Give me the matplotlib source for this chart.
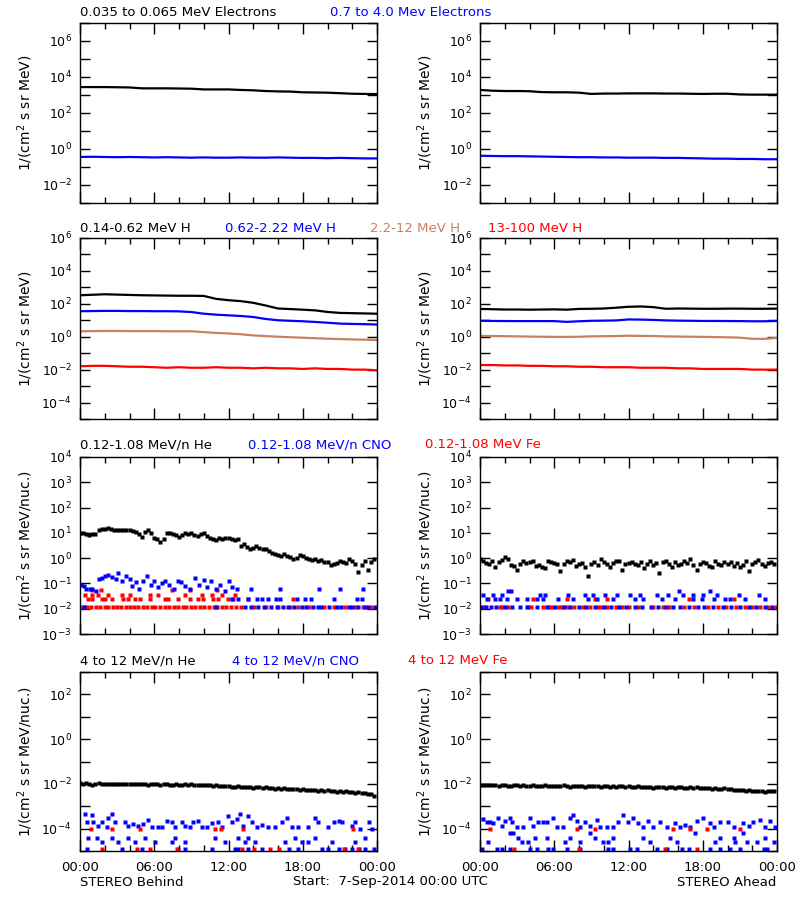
import numpy as np
import matplotlib
matplotlib.use('Agg')
import matplotlib.pyplot as plt
from matplotlib.ticker import FixedLocator, FuncFormatter, MultipleLocator, NullFormatter

plt.rcParams['font.family'] = ['DejaVu Sans']

BROWN = '#c8805f'

# hourly samples 00:00 .. 24:00
hours = list(range(25))
# quarter-hourly samples 00:00 .. 23:45
quarter_hours = [i * 0.25 for i in range(96)]

# ---- electrons (row 1) ----
e_low_b = [2754, 2754, 2754, 2692, 2630, 2344, 2344, 2344, 2291, 2239, 2042, 2042, 2042,
           1905, 1820, 1660, 1585, 1549, 1413, 1380, 1349, 1259, 1175, 1148, 1122]
e_high_b = [0.36, 0.37, 0.36, 0.35, 0.36, 0.35, 0.34, 0.35, 0.34, 0.33, 0.34, 0.33, 0.33,
            0.34, 0.33, 0.33, 0.34, 0.33, 0.32, 0.32, 0.31, 0.32, 0.31, 0.30, 0.30]
e_low_a = [1905, 1738, 1660, 1660, 1622, 1445, 1413, 1413, 1349, 1148, 1202, 1202, 1230,
           1230, 1230, 1202, 1202, 1175, 1148, 1175, 1175, 1072, 1047, 1047, 1047]
e_high_a = [0.42, 0.41, 0.40, 0.40, 0.39, 0.38, 0.37, 0.36, 0.35, 0.35, 0.34, 0.34, 0.33,
            0.33, 0.33, 0.32, 0.32, 0.31, 0.30, 0.29, 0.29, 0.28, 0.28, 0.27, 0.27]

# ---- protons (row 2) ----
h1_b = [331, 355, 380, 363, 347, 331, 324, 316, 309, 309, 302, 200, 166,
        145, 115, 79, 52, 48, 44, 40, 32, 28, 27, 26, 25]
h2_b = [35.5, 36.3, 37.2, 37.2, 36.3, 36.3, 35.5, 35.5, 34.7, 31.6, 25.1, 21.9, 20.0,
        18.2, 15.8, 12.0, 10.0, 9.3, 8.7, 7.9, 7.1, 6.3, 6.0, 5.8, 5.5]
h3_b = [2.14, 2.19, 2.24, 2.24, 2.19, 2.19, 2.19, 2.14, 2.14, 2.14, 1.91, 1.70, 1.58,
        1.41, 1.20, 1.10, 1.00, 0.93, 0.87, 0.81, 0.76, 0.72, 0.69, 0.66, 0.63]
h4_b = [0.016, 0.017, 0.017, 0.016, 0.015, 0.015, 0.014, 0.013, 0.014, 0.013, 0.013, 0.014, 0.013,
        0.013, 0.012, 0.013, 0.012, 0.012, 0.011, 0.012, 0.011, 0.011, 0.010, 0.010, 0.0092]
h1_a = [49, 47, 45, 45, 44, 45, 46, 44, 49, 50, 52, 58, 66,
        69, 63, 50, 52, 51, 50, 50, 51, 51, 50, 50, 51]
h2_a = [9.3, 9.1, 9.0, 8.9, 8.9, 8.9, 8.9, 8.0, 8.7, 9.3, 9.5, 9.8, 11.2,
        11.0, 10.5, 9.8, 9.5, 9.3, 9.1, 9.1, 9.0, 8.9, 8.7, 8.7, 9.1]
h3_a = [1.12, 1.10, 1.08, 1.05, 1.02, 1.00, 0.98, 0.97, 1.00, 1.05, 1.08, 1.10, 1.15,
        1.12, 1.10, 1.05, 1.02, 1.00, 0.98, 0.95, 0.92, 0.88, 0.75, 0.74, 0.85]
h4_a = [0.019, 0.019, 0.018, 0.018, 0.017, 0.017, 0.016, 0.016, 0.015, 0.015, 0.014, 0.014, 0.014,
        0.013, 0.013, 0.013, 0.012, 0.012, 0.011, 0.011, 0.011, 0.011, 0.010, 0.010, 0.010]

# ---- 0.12-1.08 MeV/n heavy ions (row 3) ----
he_lo_b = [9.5, 10, 9.0, 8.5, 8.8, 9.2, 13.5, 14.8, 14.5, 15.5, 14.0, 13.0,
           12.5, 13.5, 13.0, 12.8, 12.5, 11.5, 11.0, 9.0, 7.0, 10.5, 13.0, 10.0,
           6.5, 5.5, 4.5, 5.5, 9.5, 9.8, 9.0, 8.0, 7.0, 8.5, 10.0, 9.0,
           9.5, 8.0, 7.5, 9.0, 10.0, 7.5, 6.0, 5.5, 5.0, 6.5, 5.5, 6.0,
           6.0, 5.5, 5.0, 5.8, 3.0, 3.5, 2.8, 2.3, 2.5, 2.9, 2.6, 2.2,
           2.4, 1.9, 1.6, 1.4, 1.3, 1.2, 1.5, 1.2, 1.1, 0.9, 1.0, 1.3,
           1.2, 1.0, 0.95, 0.85, 0.9, 0.75, 0.85, 0.7, 0.7, 0.55, 0.6, 0.65,
           0.8, 0.7, 0.65, 0.9, 0.75, 0.6, 0.28, 0.55, 0.8, 0.35, 0.7, 0.9]
he_lo_a = [0.9, 0.8, 0.65, 0.6, 0.75, 0.45, 0.7, 0.85, 1.1, 0.9, 0.55, 0.5,
           0.35, 0.6, 0.8, 0.65, 0.7, 0.75, 0.5, 0.55, 0.45, 0.4, 0.8, 0.7,
           0.65, 0.6, 0.3, 0.6, 0.75, 0.7, 0.85, 0.5, 0.6, 0.65, 0.45, 0.2,
           0.6, 0.7, 0.55, 0.9, 0.7, 0.6, 0.45, 0.65, 0.8, 0.75, 0.35, 0.6,
           0.65, 0.7, 0.6, 0.55, 0.7, 0.4, 0.6, 0.75, 0.55, 0.65, 0.25, 0.7,
           0.8, 0.6, 0.45, 0.7, 0.55, 0.6, 0.75, 0.65, 0.9, 0.55, 0.35, 0.6,
           0.7, 0.65, 0.5, 0.45, 0.8, 0.6, 0.55, 0.7, 0.6, 0.7, 0.5, 0.65,
           0.45, 0.55, 0.75, 0.3, 0.6, 0.7, 0.85, 0.6, 0.5, 0.65, 0.7, 0.6]

cno_lo_b_t = [0.1, 0.3, 0.5, 0.8, 1.0, 1.3, 1.5, 1.8, 2.0, 2.3, 2.6, 2.9, 3.1, 3.4, 3.7, 4.0,
              4.2, 4.5, 4.8, 5.1, 5.4, 5.7, 6.0, 6.3, 6.6, 6.9, 7.2, 7.6, 7.9, 8.2, 8.5, 8.9,
              9.3, 9.6, 10.0, 10.3, 10.6, 11.0, 11.3, 11.7, 12.0, 12.3, 12.7,
              12.3, 12.8, 13.6, 14.3, 14.7, 15.2, 15.8, 16.2, 17.5, 18.2, 18.7, 20.5, 22.4, 22.8,
              13.8, 16.2, 19.3, 21.0, 22.9,
              13.3, 13.8, 14.4, 14.9, 15.4, 15.9, 16.4, 16.8, 17.3, 17.9, 18.3, 18.8, 19.2,
              19.5, 20.1, 20.8, 21.1, 21.7, 22.0, 22.5, 23.0, 23.3, 23.8, 0.3, 11.0]
cno_lo_b_v = [0.09, 0.08, 0.06, 0.06, 0.06, 0.05, 0.15, 0.17, 0.19, 0.21, 0.18, 0.15, 0.25, 0.12, 0.19, 0.15,
              0.08, 0.11, 0.06, 0.13, 0.20, 0.09, 0.12, 0.07, 0.10, 0.13, 0.09, 0.06, 0.12, 0.11, 0.08, 0.06,
              0.17, 0.09, 0.14, 0.07, 0.12, 0.06, 0.09, 0.05, 0.13, 0.07, 0.06,
              0.025, 0.025, 0.025, 0.025, 0.025, 0.025, 0.025, 0.025, 0.025, 0.025, 0.025, 0.025, 0.025, 0.025,
              0.058, 0.058, 0.058, 0.058, 0.058,
              0.0118, 0.0118, 0.0118, 0.0118, 0.0118, 0.0118, 0.0118, 0.0118, 0.0118, 0.0118, 0.0118, 0.0118, 0.0118,
              0.0118, 0.0118, 0.0118, 0.0118, 0.0118, 0.0118, 0.0118, 0.0118, 0.0118, 0.0118, 0.0118, 0.0118]
fe_lo_b_t = [0.0, 0.3, 0.6, 0.9, 1.3, 1.6, 2.0, 2.3, 2.7, 3.0, 3.3, 3.7, 4.0, 4.4, 4.7, 5.1,
             5.4, 5.8, 6.1, 6.5, 6.9, 7.2, 7.6, 7.9, 8.3, 8.6, 9.0, 9.3, 9.7, 10.0, 10.4, 10.8,
             11.1, 11.5, 11.8, 12.2, 12.6, 13.0, 14.1, 15.0, 16.0, 17.0, 17.6, 18.5, 19.7, 20.5,
             21.4, 22.2, 22.9, 23.5,
             0.67, 0.94, 1.75, 2.02, 2.56, 3.50, 3.91, 4.45, 4.85, 5.66, 6.87, 7.14, 7.95, 8.89,
             9.57, 9.97, 10.78, 11.19, 11.99, 12.40, 13.61, 17.25,
             0.40, 0.94, 1.48, 2.29, 3.37, 4.04, 5.66, 6.33, 8.49, 9.84, 10.65, 11.46, 12.53,
             1.0, 1.70, 7.41, 8.89, 11.05]
fe_lo_b_v = [0.0118] * 50 + [0.025] * 22 + [0.036] * 13 + [0.055] * 5

cno_lo_a_t = [0.1, 0.5, 0.9, 1.3, 2.0, 2.6, 3.2, 3.8, 4.6, 5.4, 6.1, 6.8, 7.3, 8.0, 8.6, 9.3,
              10.0, 10.6, 11.2, 11.8, 12.5, 13.1, 13.8, 14.4, 15.0, 15.6, 16.2, 16.9, 17.6, 18.1,
              18.8, 19.6, 20.3, 21.0, 21.7, 22.3, 23.0, 23.6,
              0.54, 1.21, 1.62, 2.16, 2.96, 3.77, 4.58, 5.12, 6.33, 7.55, 8.76, 9.43, 10.78,
              12.53, 13.21, 14.69, 15.77, 17.25, 17.92, 18.87, 19.81, 20.22, 21.43, 23.05,
              0.27, 1.08, 1.75, 4.85, 5.26, 7.14, 8.49, 9.16, 10.11, 11.05, 12.13, 12.94,
              14.29, 15.23, 16.44, 17.25, 18.06, 19.14, 20.89, 22.51,
              2.29, 2.48, 16.12, 18.60]
cno_lo_a_v = [0.0118] * 38 + [0.024] * 24 + [0.036] * 20 + [0.05] * 4
fe_lo_a_t = [0.3, 1.6, 1.8, 2.3, 3.9, 4.1, 5.1, 5.6, 5.8, 6.4, 6.6, 7.0, 7.6, 8.3, 8.9, 9.5,
             9.8, 10.3, 11.0, 11.5, 12.0, 12.8, 14.0, 14.8, 15.3, 16.5, 17.3, 18.4, 19.2, 19.9,
             20.7, 21.4, 22.0, 22.6, 23.3, 23.9,
             0.67, 4.31, 7.01, 9.30, 10.24, 16.85, 20.49]
fe_lo_a_v = [0.0118] * 36 + [0.024] * 7

# ---- 4-12 MeV/n heavy ions (row 4) ----
he_hi_b = [0.0105, 0.0098, 0.0110, 0.0100, 0.0092, 0.0095, 0.0108, 0.0101, 0.0103, 0.0097, 0.0100, 0.0098,
           0.0102, 0.0096, 0.0099, 0.0101, 0.0097, 0.0094, 0.0100, 0.0096, 0.0098, 0.0095, 0.0092, 0.0097,
           0.0100, 0.0094, 0.0091, 0.0096, 0.0098, 0.0093, 0.0090, 0.0095, 0.0092, 0.0088, 0.0094, 0.0090,
           0.0096, 0.0091, 0.0087, 0.0089, 0.0085, 0.0090, 0.0086, 0.0082, 0.0088, 0.0083, 0.0078, 0.0084,
           0.0080, 0.0076, 0.0072, 0.0077, 0.0074, 0.0070, 0.0075, 0.0071, 0.0068, 0.0073, 0.0069, 0.0066,
           0.0070, 0.0064, 0.0067, 0.0062, 0.0065, 0.0060, 0.0063, 0.0058, 0.0061, 0.0057, 0.0059, 0.0055,
           0.0057, 0.0053, 0.0056, 0.0051, 0.0054, 0.0050, 0.0052, 0.0048, 0.0051, 0.0047, 0.0049, 0.0045,
           0.0047, 0.0044, 0.0046, 0.0042, 0.0044, 0.0041, 0.0043, 0.0039, 0.0040, 0.0036, 0.0037, 0.0030]
he_hi_a = [0.0092, 0.0088, 0.0090, 0.0086, 0.0091, 0.0087, 0.0084, 0.0089, 0.0085, 0.0080, 0.0083, 0.0088,
           0.0086, 0.0082, 0.0087, 0.0084, 0.0079, 0.0085, 0.0081, 0.0077, 0.0083, 0.0086, 0.0080, 0.0084,
           0.0081, 0.0078, 0.0082, 0.0085, 0.0079, 0.0076, 0.0080, 0.0083, 0.0078, 0.0081, 0.0075, 0.0079,
           0.0082, 0.0077, 0.0080, 0.0074, 0.0078, 0.0081, 0.0076, 0.0079, 0.0073, 0.0077, 0.0080, 0.0075,
           0.0078, 0.0072, 0.0076, 0.0079, 0.0074, 0.0070, 0.0075, 0.0072, 0.0068, 0.0073, 0.0076, 0.0071,
           0.0067, 0.0072, 0.0069, 0.0065, 0.0070, 0.0073, 0.0068, 0.0064, 0.0069, 0.0066, 0.0071, 0.0067,
           0.0063, 0.0068, 0.0065, 0.0061, 0.0066, 0.0062, 0.0060, 0.0064, 0.0058, 0.0061, 0.0056, 0.0053,
           0.0055, 0.0051, 0.0049, 0.0052, 0.0047, 0.0050, 0.0046, 0.0049, 0.0045, 0.0048, 0.0047, 0.0050]

cno_hi_b_t = [0.40, 0.54, 0.94, 1.08, 1.48, 1.75, 2.16, 2.29, 2.56, 2.83, 3.64, 3.91, 4.31, 4.72, 5.12,
              5.53, 5.80, 6.33, 6.60, 7.01, 7.41, 7.68, 8.22, 8.49, 8.89, 9.16, 9.57, 9.84, 10.24,
              10.65, 11.19, 11.46, 11.99, 12.26, 12.67, 12.94, 13.21, 13.56, 13.88, 14.29, 14.69,
              15.23, 15.77, 16.31, 16.71, 17.12, 17.65, 18.46, 19.00, 19.27, 20.08, 20.49, 20.89,
              21.16, 21.97, 22.24, 22.64, 23.32, 23.58,
              0.67, 1.35, 2.56, 3.91, 5.26, 7.68, 10.92, 12.80, 13.61, 17.39, 19.00, 23.05,
              1.75, 3.10, 4.45, 6.06, 7.41, 8.49, 11.73, 13.34, 14.15, 16.58, 17.90, 18.46, 20.35, 22.24,
              0.54, 3.37, 4.99, 7.95, 8.49, 10.65, 12.53, 12.80, 13.61, 14.69, 16.85, 17.65, 19.54,
              20.08, 20.89, 21.43, 21.97, 22.51, 23.05, 23.72]
cno_hi_b_v = [4.4e-4, 2.0e-4, 4.0e-4, 1.9e-4, 1.35e-4, 2.0e-4, 1.15e-4, 3.1e-4, 4.4e-4, 1.9e-4, 2.0e-4,
              1.35e-4, 1.6e-4, 1.35e-4, 1.6e-4, 2.4e-4, 1.15e-4, 1.15e-4, 1.2e-4, 2.1e-4, 1.9e-4, 1.15e-4,
              2.0e-4, 1.25e-4, 1.15e-4, 2.0e-4, 2.1e-4, 1.15e-4, 1.2e-4, 1.8e-4, 2.0e-4, 1.15e-4, 3.7e-4,
              1.9e-4, 2.65e-4, 4.4e-4, 1.35e-4, 3.7e-4, 1.9e-4, 1.15e-4, 1.5e-4, 1.15e-4, 1.15e-4, 1.9e-4,
              3.1e-4, 1.15e-4, 1.15e-4, 1.15e-4, 3.1e-4, 2.0e-4, 1.15e-4, 2.0e-4, 2.2e-4, 1.9e-4, 1.35e-4,
              2.0e-4, 1.0e-4, 1.9e-4, 1.0e-4] + [4.0e-5] * 12 + [2.5e-5] * 14 + [1.2e-5] * 20
fe_hi_b_t = [0.89, 2.56, 4.85, 10.92, 11.37, 13.21, 22.10,
             1.75, 4.64, 5.66, 7.82, 13.07, 14.07, 15.36, 16.09, 21.37, 22.45]
fe_hi_b_v = [1.0e-4] * 7 + [1.2e-5] * 10

cno_hi_a_t = [0.27, 0.54, 0.81, 1.08, 1.48, 1.75, 2.02, 2.43, 2.56, 2.96, 3.50, 4.04, 4.31, 4.72,
              5.12, 5.39, 5.93, 6.20, 6.74, 7.28, 7.55, 7.82, 8.09, 8.49, 8.89, 9.43, 9.70, 10.24,
              10.78, 11.19, 11.59, 11.99, 12.40, 12.80, 13.21, 13.61, 14.02, 14.56, 15.09, 15.77,
              16.17, 16.58, 16.98, 17.52, 18.06, 18.60, 18.87, 19.41, 20.08, 20.49, 21.29, 21.70,
              22.10, 22.64, 23.05, 23.45, 23.85,
              2.43, 2.70, 8.89, 17.38, 21.29,
              3.10, 4.45, 5.39, 7.28, 9.30, 10.78, 13.21, 15.36, 19.41, 20.49, 23.05,
              0.67, 3.37, 3.91, 6.87, 8.09, 9.97, 10.38, 13.75, 15.90, 19.00, 20.62, 21.56, 22.37, 23.72,
              0.13, 1.35, 1.75, 2.43, 4.04, 4.58, 5.53, 5.93, 7.01, 8.09, 10.38, 10.78, 12.13, 12.67,
              14.29, 15.09, 16.31, 16.85, 18.60, 19.41, 20.22, 21.02, 22.91, 23.18]
cno_hi_a_v = [2.65e-4, 1.9e-4, 2.0e-4, 1.8e-4, 3.1e-4, 1.35e-4, 2.2e-4, 3.1e-4, 2.0e-4, 1.15e-4,
              1.2e-4, 2.9e-4, 1.35e-4, 1.9e-4, 2.0e-4, 1.9e-4, 3.1e-4, 1.15e-4, 1.2e-4, 3.1e-4,
              4.0e-4, 2.2e-4, 1.2e-4, 2.0e-4, 1.25e-4, 2.4e-4, 1.15e-4, 1.2e-4, 1.15e-4, 2.0e-4,
              4.0e-4, 1.9e-4, 2.9e-4, 1.7e-4, 1.15e-4, 2.2e-4, 1.15e-4, 1.9e-4, 1.2e-4, 1.8e-4,
              1.15e-4, 1.5e-4, 1.15e-4, 2.2e-4, 3.1e-4, 1.8e-4, 1.15e-4, 1.9e-4, 2.0e-4, 1.15e-4,
              1.8e-4, 1.35e-4, 2.0e-4, 2.4e-4, 1.15e-4, 2.2e-4, 1.15e-4] + [6.2e-5] * 5 + \
             [3.9e-5] * 11 + [2.5e-5] * 14 + [1.2e-5] * 24
fe_hi_a_t = [0.81, 7.82, 9.30, 15.63, 16.98, 18.33, 21.02,
             2.78, 8.03, 14.96, 17.57]
fe_hi_a_v = [1.0e-4] * 7 + [1.2e-5] * 4

# ---- panel text ----
row_titles = [
    [('0.035 to 0.065 MeV Electrons', 'black', 80), ('0.7 to 4.0 Mev Electrons', 'blue', 330)],
    [('0.14-0.62 MeV H', 'black', 80), ('0.62-2.22 MeV H', 'blue', 225),
     ('2.2-12 MeV H', BROWN, 370), ('13-100 MeV H', 'red', 488)],
    [('0.12-1.08 MeV/n He', 'black', 80), ('0.12-1.08 MeV/n CNO', 'blue', 248),
     ('0.12-1.08 MeV Fe', 'red', 425)],
    [('4 to 12 MeV/n He', 'black', 80), ('4 to 12 MeV/n CNO', 'blue', 232),
     ('4 to 12 MeV Fe', 'red', 408)],
]
title_y = [13, 228, 445, 661]
ylims = [(1e-3, 1e7), (1e-5, 1e6), (1e-3, 1e4), (1e-5, 1e3)]
ylabels = ['1/(cm$^2$ s sr MeV)', '1/(cm$^2$ s sr MeV)',
           '1/(cm$^2$ s sr MeV/nuc.)', '1/(cm$^2$ s sr MeV/nuc.)']
time_labels = ['00:00', '06:00', '12:00', '18:00', '00:00']

W, H = 800, 900
fig = plt.figure(figsize=(8, 9), dpi=100)

# panel boxes in pixels: (top, bottom)
rows_px = [(23, 203), (238, 419), (457, 634), (672, 851)]
cols_px = [(80, 377), (480, 777)]

axes = []
for r, (top, bot) in enumerate(rows_px):
    row = []
    for c, (left, right) in enumerate(cols_px):
        ax = fig.add_axes([left / W, 1 - bot / H, (right - left) / W, (bot - top) / H])
        ax.set_xlim(0, 24)
        ax.set_yscale('log')
        ax.set_ylim(*ylims[r])
        lo, hi = np.log10(ylims[r])
        decades = 10.0 ** np.arange(lo, hi + 1)
        ax.yaxis.set_major_locator(FixedLocator(decades))
        ax.yaxis.set_minor_locator(FixedLocator([]))
        every = 1 if r == 2 else 2

        def fmt(v, pos, every=every):
            e = int(round(np.log10(v)))
            if e % every:
                return ''
            return r'$\mathregular{10^{%d}}$' % e
        ax.yaxis.set_major_formatter(FuncFormatter(fmt))
        ax.xaxis.set_major_locator(MultipleLocator(6))
        ax.xaxis.set_minor_locator(MultipleLocator(2))
        ax.tick_params(which='both', direction='in', top=True, right=True, width=1)
        ax.tick_params(axis='y', which='major', length=7, pad=6, labelsize=9)
        ax.tick_params(axis='x', which='major', length=8, pad=7, labelsize=9.5)
        ax.tick_params(axis='x', which='minor', length=4)
        if r == 3:
            ax.set_xticks([0, 6, 12, 18, 24])
            ax.set_xticklabels(time_labels)
        else:
            ax.xaxis.set_major_formatter(NullFormatter())
        ax.set_ylabel(ylabels[r], fontsize=10)
        ax.yaxis.set_label_coords(-0.15, 0.5)
        for s in ax.spines.values():
            s.set_linewidth(1)
        row.append(ax)
    axes.append(row)

lw = 1.6
# row 1
axes[0][0].plot(hours, e_low_b, color='black', lw=lw)
axes[0][0].plot(hours, e_high_b, color='blue', lw=lw)
axes[0][1].plot(hours, e_low_a, color='black', lw=lw)
axes[0][1].plot(hours, e_high_a, color='blue', lw=lw)

# row 2
for ax, series in [(axes[1][0], (h1_b, h2_b, h3_b, h4_b)), (axes[1][1], (h1_a, h2_a, h3_a, h4_a))]:
    for vals, col in zip(series, ['black', 'blue', BROWN, 'red']):
        ax.plot(hours, vals, color=col, lw=lw)

# rows 3 and 4: point data
def dots(ax, t, v, col, size=2.6):
    ax.plot(t, v, 's', color=col, ms=size, mec='none')

dots(axes[2][0], fe_lo_b_t, fe_lo_b_v, 'red')
dots(axes[2][0], cno_lo_b_t, cno_lo_b_v, 'blue')
dots(axes[2][0], quarter_hours, he_lo_b, 'black', 2.2)
dots(axes[2][1], fe_lo_a_t, fe_lo_a_v, 'red')
dots(axes[2][1], cno_lo_a_t, cno_lo_a_v, 'blue')
dots(axes[2][1], quarter_hours, he_lo_a, 'black', 2.2)

dots(axes[3][0], cno_hi_b_t, cno_hi_b_v, 'blue')
dots(axes[3][0], fe_hi_b_t, fe_hi_b_v, 'red')
dots(axes[3][0], quarter_hours, he_hi_b, 'black', 2.2)
dots(axes[3][1], cno_hi_a_t, cno_hi_a_v, 'blue')
dots(axes[3][1], fe_hi_a_t, fe_hi_a_v, 'red')
dots(axes[3][1], quarter_hours, he_hi_a, 'black', 2.2)

# coloured titles above each row
for r, items in enumerate(row_titles):
    for text, col, x in items:
        fig.text(x / W, 1 - title_y[r] / H, text, color=col, fontsize=9.5,
                 ha='left', va='center')

fig.text(80 / W, 1 - 882 / H, 'STEREO Behind', fontsize=9.5, ha='left', va='center')
fig.text(293 / W, 1 - 882 / H, 'Start:  7-Sep-2014 00:00 UTC', fontsize=9.5, ha='left', va='center')
fig.text(776 / W, 1 - 882 / H, 'STEREO Ahead', fontsize=9.5, ha='right', va='center')

fig.savefig('out.png', dpi=100, facecolor='white')
